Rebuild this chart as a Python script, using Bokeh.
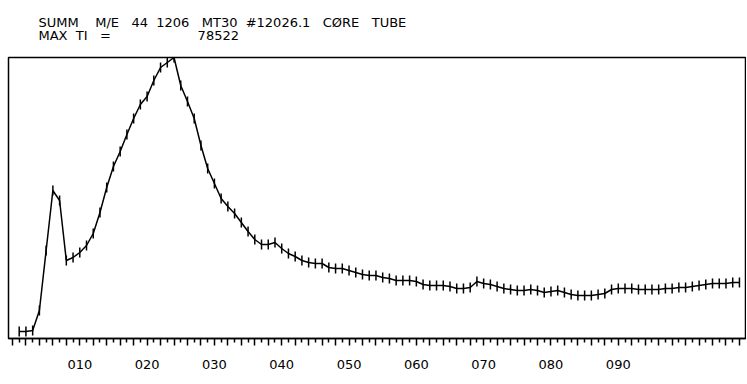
import numpy as np
from bokeh.plotting import figure
from bokeh.models import Range1d, FixedTicker, Title, CustomJSTickFormatter
from bokeh.embed import file_html
from bokeh.resources import INLINE

# ---- data (scan number vs. total ion intensity, M/E 44) ----
scans = list(range(1, 109))
intensity = [
    1956, 1956, 2236, 7824, 24591, 41357, 38563, 21796, 22635, 24032,
    25988, 29341, 35209, 42195, 48064, 52255, 57006, 61477, 65389, 67624,
    72096, 75728, 77125, 78522, 70698, 66227, 61477, 53932, 47505, 43313,
    39122, 36886, 34930, 32415, 29900, 27665, 26267, 26267, 26826, 25150,
    23752, 22914, 21796, 21237, 20958, 20958, 19840, 19561, 19561, 19002,
    18443, 17884, 17605, 17605, 17046, 16766, 16208, 16208, 16208, 15928,
    15090, 14810, 14810, 14810, 14531, 13972, 13972, 14251, 15928, 15369,
    15090, 14531, 13972, 13693, 13413, 13413, 13693, 13413, 12854, 13134,
    13413, 12854, 12295, 12016, 12016, 12016, 12295, 12575, 13693, 13972,
    13972, 13972, 13693, 13693, 13693, 13693, 13972, 13972, 14251, 14251,
    14531, 14810, 15090, 15369, 15369, 15369, 15649, 15649,
]
max_ti = 78522

major_ticks = list(range(0, 110, 2))
minor_ticks = list(range(1, 110, 2))
labelled = [10, 20, 30, 40, 50, 60, 70, 80, 90]
tick_labels = ["010", "020", "030", "040", "050", "060", "070", "080", "090"]

NB = "\u00a0"
line1_words = ["SUMM", "M/E", "44", "1206", "MT30", "#12026.1", "CØRE", "TUBE"]
line1_gaps = [4, 3, 2, 3, 2, 3, 3]
line2_words = ["MAX", "TI", "=", "78522"]
line2_gaps = [2, 3, 21]


def spaced(words, gaps):
    out = words[0]
    for w, g in zip(words[1:], gaps):
        out += NB * g + w
    return out


title_text = spaced(line1_words, line1_gaps) + "\n" + spaced(line2_words, line2_gaps)

FONT = "DejaVu Sans"

p = figure(width=746, height=380, output_backend="svg", toolbar_location=None,
           x_range=Range1d(-0.59, 108.9), y_range=Range1d(0, max_ti),
           y_axis_location=None, x_axis_location="below", title_location=None,
           min_border_left=8, min_border_right=1, min_border_top=57,
           min_border_bottom=42)
p.grid.visible = False
p.outline_line_color = "black"
p.outline_line_width = 1.5
p.background_fill_color = "white"
p.border_fill_color = "white"

ax = p.xaxis[0]
ax.ticker = FixedTicker(ticks=major_ticks, minor_ticks=minor_ticks)
ax.formatter = CustomJSTickFormatter(
    args=dict(vals=labelled, labs=tick_labels),
    code="const i = vals.indexOf(tick); return i >= 0 ? labs[i] : '';")
ax.axis_line_color = "black"
ax.axis_line_width = 1.5
ax.major_tick_line_color = "black"
ax.major_tick_line_width = 1.5
ax.minor_tick_line_color = "black"
ax.minor_tick_line_width = 1.5
ax.major_tick_in = 0
ax.major_tick_out = 7
ax.minor_tick_in = 0
ax.minor_tick_out = 4
ax.major_label_standoff = 14
ax.major_label_text_font = FONT
ax.major_label_text_font_size = "13px"
ax.major_label_text_color = "black"

p.line(scans, intensity, line_color="black", line_width=1.5)
p.scatter(scans, intensity, marker="dash", angle=np.pi / 2, size=10,
          line_color="black", line_width=1.5)

t = Title(text=title_text, align="left", offset=30, standoff=25,
          vertical_align="top",
          text_font=FONT, text_font_size="13px", text_font_style="normal",
          text_line_height=0.85, text_color="black")
p.add_layout(t, "above")

open("out.html", "w").write(file_html(p, INLINE))
